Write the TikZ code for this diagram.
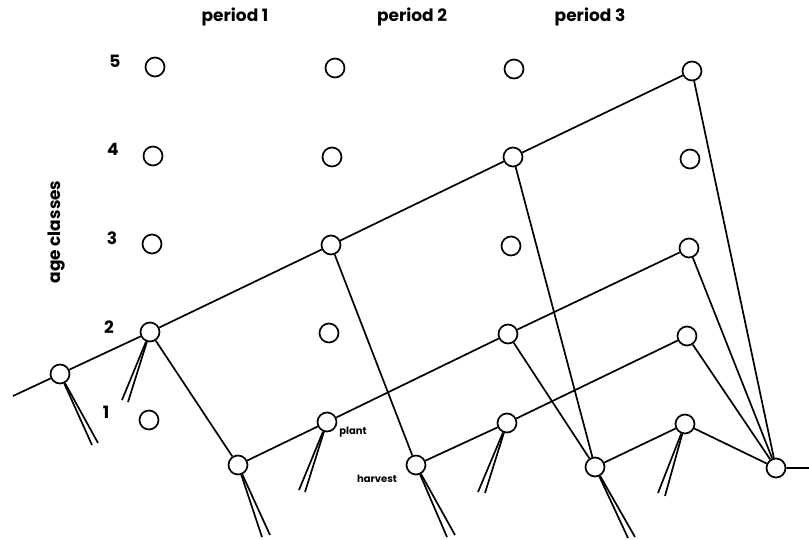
\documentclass[tikz,border=0pt]{standalone}
\usepackage{fontspec}
\setmainfont{Poppins}
\begin{document}
\begin{tikzpicture}[x=1pt,y=-1pt,line width=1.7pt,
  st/.style={circle,draw,fill=white,minimum size=19pt,inner sep=0pt,line width=1.7pt},
  lab/.style={font=\bfseries\fontsize{17}{19}\selectfont,inner sep=0pt},
  sm/.style={font=\bfseries\fontsize{10}{11}\selectfont,inner sep=0pt}]
\useasboundingbox (0,0) rectangle (809,539);
% column labels
\node[lab] (p1) at (235,17) {period 1};
\node[lab] (p2) at (412,17) {period 2};
\node[lab] (p3) at (590,17) {period 3};
% age labels
\node[lab] (a5) at (115,61) {5};
\node[lab] (a4) at (113,149) {4};
\node[lab] (a3) at (112,238) {3};
\node[lab] (a2) at (109,327) {2};
\node[lab] (a1) at (106,412) {1};
\node[lab,rotate=90] (ac) at (57,232) {age classes};
% grid nodes
\node[st] (c1r5) at (155,67) {};
\node[st] (c1r4) at (153,156) {};
\node[st] (c1r3) at (152,244) {};
\node[st] (c1r2) at (150,332) {};
\node[st] (c1r1) at (149,420) {};
\node[st] (c2r5) at (335,68) {};
\node[st] (c2r4) at (332,157) {};
\node[st] (c2r3) at (331,245) {};
\node[st] (c2r2) at (329,333) {};
\node[st] (c2r1) at (327,422) {};
\node[st] (c3r5) at (514,69) {};
\node[st] (c3r4) at (513,157) {};
\node[st] (c3r3) at (511,246) {};
\node[st] (c3r2) at (508,334) {};
\node[st] (c3r1) at (507,423) {};
\node[st] (c4r5) at (692,71) {};
\node[st] (c4r4) at (690,159) {};
\node[st] (c4r3) at (689,248) {};
\node[st] (c4r2) at (687,336) {};
\node[st] (c4r1) at (685,424) {};
% bottom nodes
\node[st] (b0) at (60,374) {};
\node[st] (b1) at (238,465) {};
\node[st] (b2) at (416,465) {};
\node[st] (b3) at (595,467) {};
\node[st] (b4) at (776,468) {};
\coordinate (lin) at (13,396);
\coordinate (rout) at (809,468);
% small labels
\node[sm] (plant) at (353,432) {plant};
\node[sm] (harv) at (377,479) {harvest};
% paths
\draw (lin) -- (b0) -- (c1r2) -- (c2r3) -- (c3r4) -- (c4r5) -- (b4) -- (rout);
\draw (c1r2) -- (b1) -- (c2r1) -- (c3r2) -- (c4r3) -- (b4);
\draw (c2r3) -- (b2) -- (c3r1) -- (c4r2) -- (b4);
\draw (c3r4) -- (b3) -- (c4r1) -- (b4);
\draw (c3r2) -- (b3);
% fans
\coordinate (f0a) at (92,445); \coordinate (f0b) at (98,443);
\coordinate (f1a) at (262,537); \coordinate (f1b) at (270,535);
\coordinate (f2a) at (447,537); \coordinate (f2b) at (455,535);
\coordinate (f3a) at (628,538); \coordinate (f3b) at (635,537);
\coordinate (g1a) at (122,400); \coordinate (g1b) at (128,402);
\coordinate (g2a) at (299,490); \coordinate (g2b) at (305,492);
\coordinate (g3a) at (478,492); \coordinate (g3b) at (485,493);
\coordinate (g4a) at (658,493); \coordinate (g4b) at (665,496);
\foreach \n/\a/\b in {b0/f0a/f0b,b1/f1a/f1b,b2/f2a/f2b,b3/f3a/f3b,c1r2/g1a/g1b,c2r1/g2a/g2b,c3r1/g3a/g3b,c4r1/g4a/g4b}{
  \draw (\n) -- (\a);
  \draw (\n) -- (\b);
}
\end{tikzpicture}
\end{document}
